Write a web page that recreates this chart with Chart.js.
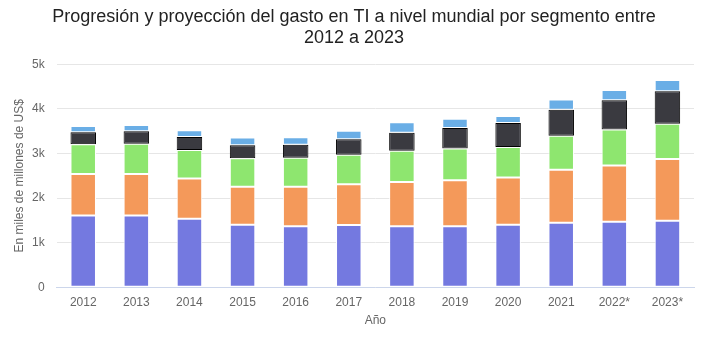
<!DOCTYPE html>
<html>
<head>
<meta charset="utf-8">
<script src="https://cdn.jsdelivr.net/npm/chart.js@4/dist/chart.umd.min.js"></script>
<style>
    html, body { margin: 0; padding: 0; background: #fff; }
    #wrap { width: 720px; height: 340px; }
</style>
</head>
<body>
<div id="wrap"><canvas id="barChart" width="720" height="340"></canvas></div>
<script>
// categorias y valores (miles de millones de US$)
const years = ["2012", "2013", "2014", "2015", "2016", "2017", "2018", "2019", "2020", "2021", "2022*", "2023*"];
const seg1 = [1610, 1610, 1535, 1400, 1370, 1395, 1370, 1370, 1400, 1445, 1470, 1490];
const seg2 = [930, 930, 905, 855, 885, 915, 990, 1030, 1060, 1190, 1260, 1385];
const seg3 = [670, 680, 640, 640, 650, 665, 700, 710, 685, 765, 810, 795];
const seg4 = [270, 280, 290, 290, 290, 345, 405, 465, 540, 580, 655, 730];
const seg5 = [135, 140, 155, 175, 170, 190, 235, 205, 155, 235, 230, 250];
const yTicks = [0, 1000, 2000, 3000, 4000, 5000];

const font = "'Liberation Sans', 'DejaVu Sans', sans-serif";

function ds(data, color, border) {
    return {
        data: data,
        backgroundColor: color,
        borderColor: border || "#ffffff",
        borderWidth: 1,
        borderSkipped: false,
        categoryPercentage: 1,
        barPercentage: 0.48,
    };
}

const chart = new Chart(document.getElementById("barChart"), {
    type: "bar",
    data: {
        labels: years,
        datasets: [
            ds(seg1, "#7479e0"),
            ds(seg2, "#f4995a"),
            ds(seg3, "#8ee66f"),
            ds(seg4, "#3a3a40", "#000000"),
            ds(seg5, "#6aaee6"),
        ],
    },
    options: {
        responsive: false,
        animation: false,
        layout: { padding: { left: 14, right: 26, top: 0, bottom: 8 } },
        plugins: {
            legend: { display: false },
            tooltip: { enabled: false },
            title: {
                display: true,
                text: ["Progresión y proyección del gasto en TI a nivel mundial por segmento entre", "2012 a 2023"],
                color: "#222",
                font: { family: font, size: 18, weight: "normal", lineHeight: 1.15 },
                padding: { top: 7, bottom: 16 },
            },
        },
        scales: {
            x: {
                stacked: true,
                grid: { display: false },
                border: { color: "#ccd6eb" },
                ticks: { color: "#666", font: { family: font, size: 12 }, padding: 0 },
                title: {
                    display: true,
                    text: "Año",
                    color: "#666",
                    font: { family: font, size: 12 },
                    padding: { top: 4 },
                },
            },
            y: {
                stacked: true,
                min: 0,
                max: 5000,
                afterBuildTicks: (axis) => {
                    axis.ticks = yTicks.map((v) => ({ value: v }));
                },
                grid: { color: "#e6e6e6", drawTicks: false },
                border: { display: false },
                ticks: {
                    color: "#666",
                    font: { family: font, size: 12 },
                    padding: 12,
                    callback: function (value) {
                        return value === 0 ? "0" : value / 1000 + "k";
                    },
                },
                title: {
                    display: true,
                    text: "En miles de millones de US$",
                    color: "#666",
                    font: { family: font, size: 12, lineHeight: 1 },
                    padding: { top: 0, bottom: -6 },
                },
            },
        },
    },
});
</script>
</body>
</html>
